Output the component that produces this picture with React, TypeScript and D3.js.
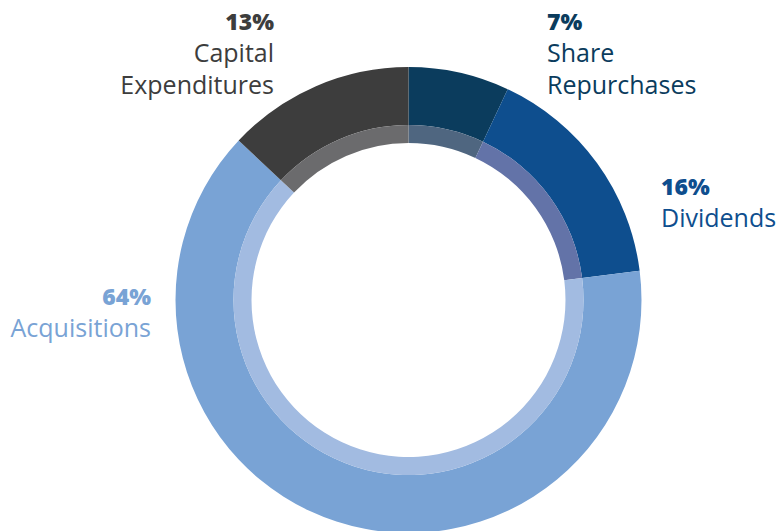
import React, { useEffect, useRef } from "react";
import * as d3 from "d3";

const categories = ["Share Repurchases", "Dividends", "Acquisitions", "Capital Expenditures"];
const shares = [7, 16, 64, 13];
const outerColors = ["#0b3c5d", "#0e4e8e", "#79a3d5", "#3d3d3d"];
const innerColors = ["#4f6680", "#6373a8", "#a2bbe1", "#6b6b6d"];
// label lines: percent then the name split over lines
const labelLines = [["Share", "Repurchases"], ["Dividends"], ["Acquisitions"], ["Capital", "Expenditures"]];

const W = 778;
const H = 531;

const App = () => {
  const svgRef = useRef<SVGSVGElement | null>(null);

  useEffect(() => {
    if (!svgRef.current) return;
    const svg = d3.select(svgRef.current);
    svg.selectAll("*").remove();

    const cx = 408.5;
    const cy = 300;
    const rOuter = 233;
    const rBand = 175;
    const rInner = 157;

    const pie = d3.pie<number>().sort(null).value(d => d);
    const arcs = pie(shares);

    const g = svg.append("g").attr("transform", `translate(${cx},${cy})`);

    const outerArc = d3.arc<d3.PieArcDatum<number>>().innerRadius(rBand).outerRadius(rOuter);
    const bandArc = d3.arc<d3.PieArcDatum<number>>().innerRadius(rInner).outerRadius(rBand);

    g.selectAll("path.outer")
      .data(arcs)
      .enter()
      .append("path")
      .attr("class", "outer")
      .attr("d", outerArc)
      .attr("fill", (_, i) => outerColors[i]);

    g.selectAll("path.band")
      .data(arcs)
      .enter()
      .append("path")
      .attr("class", "band")
      .attr("d", bandArc)
      .attr("fill", (_, i) => innerColors[i]);

    // label anchors
    const labelPos = [
      { x: 547, y: 30, anchor: "start" },
      { x: 661, y: 195, anchor: "start" },
      { x: 151, y: 305, anchor: "end" },
      { x: 274, y: 30, anchor: "end" },
    ];

    categories.forEach((c, i) => {
      const p = labelPos[i];
      const t = svg.append("text")
        .attr("x", p.x)
        .attr("y", p.y)
        .attr("text-anchor", p.anchor)
        .attr("fill", outerColors[i])
        .style("font-family", "'Open Sans', sans-serif")
        .style("font-size", "25px");
      t.append("tspan")
        .attr("x", p.x)
        .style("font-weight", 800)
        .style("font-size", "23px")
        .text(`${shares[i]}%`);
      labelLines[i].forEach((line) => {
        t.append("tspan")
          .attr("x", p.x)
          .attr("dy", 32)
          .text(line);
      });
    });
  }, []);

  return (
    <div style={{ position: "absolute", left: 0, top: 0, width: W, height: H, background: "#fff" }}>
      <svg ref={svgRef} width={W} height={H}></svg>
    </div>
  );
};

export default App;
